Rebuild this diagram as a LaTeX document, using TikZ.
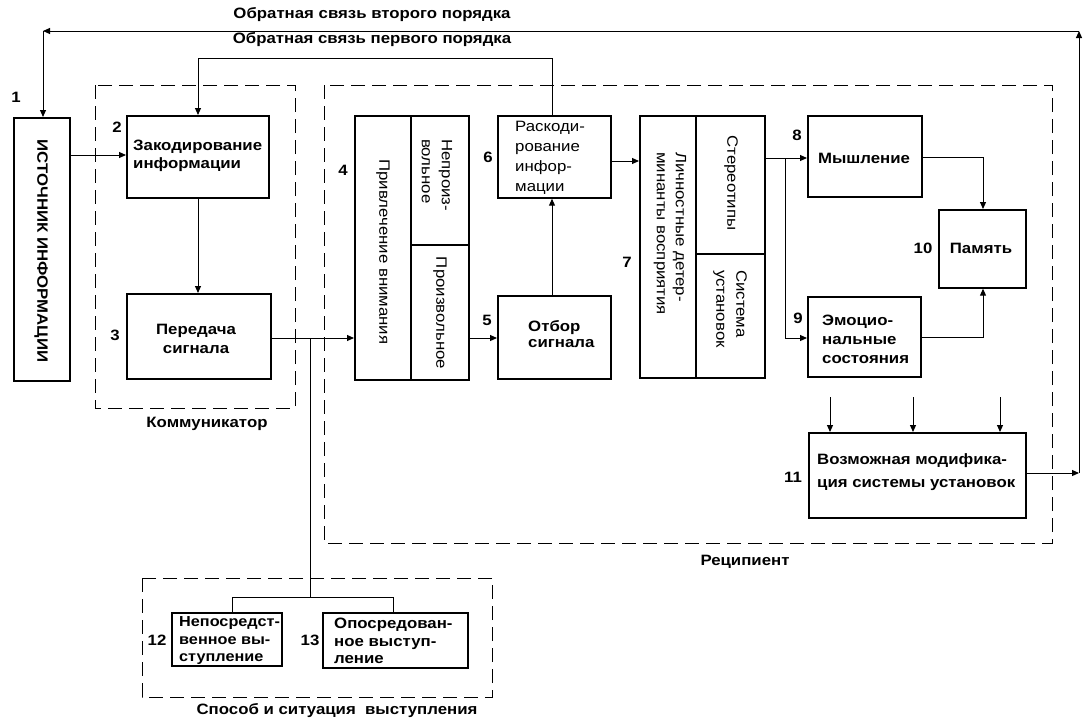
\documentclass[tikz,border=0pt]{standalone}
\usepackage{fontspec}
\setmainfont{Liberation Sans}[FakeStretch=1.12]
\usetikzlibrary{arrows.meta}
\begin{document}
\begin{tikzpicture}[x=1pt,y=-1pt,
  font=\bfseries\fontsize{15}{19}\selectfont,
  box/.style={draw,line width=1.7pt,anchor=north west,inner sep=0pt},
  ln/.style={line width=1pt},
  arr/.style={ln,-{Triangle[length=7pt,width=6pt]}},
  dbox/.style={line width=1pt,dash pattern=on 14pt off 7pt},
  div/.style={line width=1.3pt},
  txt/.style={align=left,inner sep=0pt},
  lite/.style={font=\mdseries\fontsize{15}{20}\selectfont},
]
\useasboundingbox (0,0) rectangle (1083,721);

% dashed group frames
\draw[dbox] (95,85) rectangle (295,408);
\draw[dbox] (324,85) rectangle (1052,543);
\draw[dbox] (142,578) rectangle (492,697);

% boxes
\node[box,minimum width=56pt,minimum height=263pt] (n1) at (13,117) {};
\node[box,minimum width=142pt,minimum height=82pt] (n2) at (126,115) {};
\node[box,minimum width=144pt,minimum height=85pt] (n3) at (126,293) {};
\node[box,minimum width=114pt,minimum height=264pt] (n4) at (354,115) {};
\node[box,minimum width=113pt,minimum height=83pt] (n5) at (497,295) {};
\node[box,minimum width=113pt,minimum height=82pt] (n6) at (497,115) {};
\node[box,minimum width=125pt,minimum height=262pt] (n7) at (639,115) {};
\node[box,minimum width=114pt,minimum height=81pt] (n8) at (807,115) {};
\node[box,minimum width=113pt,minimum height=80pt] (n9) at (807,296) {};
\node[box,minimum width=87pt,minimum height=78pt] (n10) at (938,209) {};
\node[box,minimum width=217pt,minimum height=85pt] (n11) at (808,432) {};
\node[box,minimum width=110pt,minimum height=53pt] (n12) at (171,612) {};
\node[box,minimum width=145pt,minimum height=55pt] (n13) at (322,612) {};

% dividers
\draw[div] (411,115) -- (411,379);
\draw[div] (411,245) -- (468,245);
\draw[div] (696,115) -- (696,377);
\draw[div] (696,254) -- (764,254);

% texts
\node[rotate=-90] (t1) at (41,251) {ИСТОЧНИК ИНФОРМАЦИИ};
\node[txt,anchor=west,font=\bfseries\fontsize{15}{18}\selectfont] (t2) at (133,156) {Закодирование\\информации};
\node[align=center,inner sep=0pt] (t3) at (196,339) {Передача\\сигнала};
\node[rotate=-90,lite] (t4) at (383,252) {Привлечение внимания};
\node[rotate=-90,txt,lite,anchor=west] (t4a) at (437,139) {Непроиз-\\вольное};
\node[rotate=-90,lite] (t4b) at (440,313) {Произвольное};
\node[txt,anchor=west,font=\bfseries\fontsize{15}{16}\selectfont] (t5) at (528,334) {Отбор\\сигнала};
\node[txt,anchor=west,lite] (t6) at (515,158) {Раскоди-\\рование\\инфор-\\мации};
\node[rotate=-90,txt,anchor=west,font=\mdseries\fontsize{15}{19}\selectfont] (t7) at (670,152) {Личностные детер-\\минанты восприятия};
\node[rotate=-90,lite] (t7a) at (731,183) {Стереотипы};
\node[rotate=-90,txt,lite,anchor=west] (t7b) at (730,270) {Система\\установок};
\node (t8) at (864,158) {Мышление};
\node[txt,anchor=west] (t9) at (822,339) {Эмоцио-\\нальные\\состояния};
\node (t10) at (981,248) {Память};
\node[txt,anchor=west,font=\bfseries\fontsize{15}{23}\selectfont] (t11) at (817,472) {Возможная модифика-\\ция системы установок};
\node[txt,anchor=west,font=\bfseries\fontsize{14.5}{17.5}\selectfont] (t12) at (179,641) {Непосредст-\\венное вы-\\ступление};
\node[txt,anchor=west,font=\bfseries\fontsize{15}{17.5}\selectfont] (t13) at (334,641) {Опосредован-\\ное выступ-\\ление};

% numbers
\node (l1) at (16,97) {1};
\node (l2) at (117,127) {2};
\node (l3) at (115,335) {3};
\node (l4) at (343,170) {4};
\node (l5) at (487,320) {5};
\node (l6) at (488,157) {6};
\node (l7) at (627,262) {7};
\node (l8) at (797,135) {8};
\node (l9) at (798,318) {9};
\node (l10) at (923,248) {10};
\node (l11) at (793,477) {11};
\node (l12) at (157,640) {12};
\node (l13) at (310,640) {13};

% labels
\node (fb2) at (372,15) {Обратная связь второго порядка};
\node (fb1) at (372,40) {Обратная связь первого порядка};
\node (kom) at (207,424) {Коммуникатор};
\node (rec) at (745,562) {Реципиент};
\node (spo) at (337,711) {Способ и ситуация\ \ выступления};

% connectors
\draw[arr] (n1.east |- 0,155) -- (n2.west |- 0,155);
\draw[arr] (n2.south -| 198,0) -- (n3.north -| 198,0);
\draw[arr] (n3.east |- 0,338) -- (n4.west |- 0,338);
\coordinate (br) at (310,338);
\coordinate (brb) at (310,597);
\draw[ln] (br) -- (brb);
\draw[ln] (n12.north -| 232,0) -- (232,597) -- (393,597) -- (n13.north -| 393,0);
\draw[arr] (n4.east |- 0,338) -- (n5.west |- 0,338);
\draw[arr] (n5.north -| 552,0) -- (n6.south -| 552,0);
\draw[arr] (n6.north -| 552,0) -- (552,58) -- (198,58) -- (n2.north -| 198,0);
\draw[arr] (n6.east |- 0,161) -- (n7.west |- 0,161);
\draw[arr] (n7.east |- 0,158) -- (n8.west |- 0,158);
\coordinate (b7) at (785,158);
\draw[arr] (b7) -- (785,338) -- (n9.west |- 0,338);
\draw[arr] (n8.east |- 0,157) -- (983,157) -- (n10.north -| 983,0);
\draw[arr] (n9.east |- 0,337) -- (983,337) -- (n10.south -| 983,0);
\coordinate (i1) at (830,397);
\coordinate (i2) at (913,397);
\coordinate (i3) at (1000,397);
\draw[arr] (i1) -- (n11.north -| i1);
\draw[arr] (i2) -- (n11.north -| i2);
\draw[arr] (i3) -- (n11.north -| i3);
\coordinate (c1) at (1079,473);
\coordinate (c2) at (1079,31);
\coordinate (c3) at (43,31);
\draw[arr] (n11.east |- c1) -- (c1);
\draw[arr] (c1) -- (c2);
\draw[arr] (c2) -- (c3);
\draw[arr] (c3) -- (n1.north -| c3);
\end{tikzpicture}
\end{document}
